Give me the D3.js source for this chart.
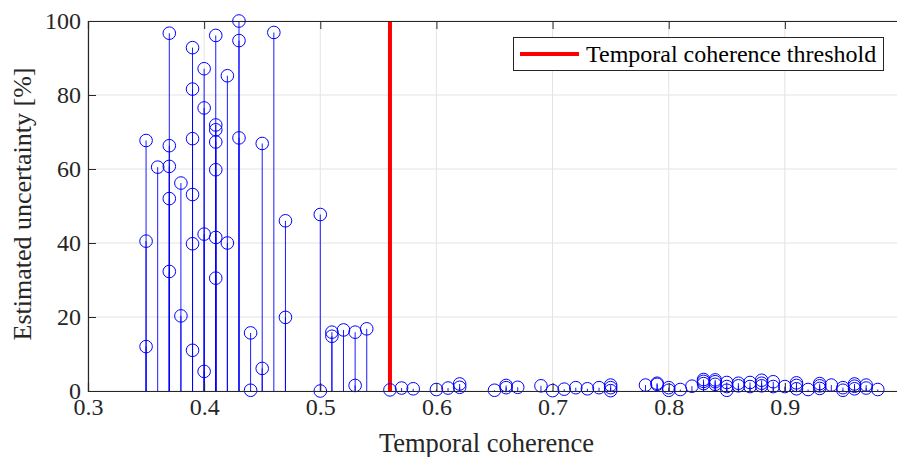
<!DOCTYPE html>
<html>
<head>
<meta charset="utf-8">
<script src="https://cdn.jsdelivr.net/npm/d3@7"></script>
<style>
  body { margin: 0; background: #fff; }
  svg { display: block; font-family: "Liberation Serif", "Times New Roman", serif; }
</style>
</head>
<body>
<div id="graph"></div>
<script>

// temporal coherence of each point (x) and its estimated uncertainty in % (y)
var coherence = [
  0.35, 0.35, 0.35, 0.36, 0.37, 0.37, 0.37, 0.37, 0.37, 0.38, 0.38,
  0.39, 0.39, 0.39, 0.39, 0.39, 0.39, 0.40, 0.40, 0.40, 0.40,
  0.41, 0.41, 0.41, 0.41, 0.41, 0.41, 0.41, 0.42, 0.42,
  0.43, 0.43, 0.43, 0.44, 0.44, 0.45, 0.45, 0.46, 0.47, 0.47,
  0.50, 0.50, 0.51, 0.51, 0.52, 0.53, 0.53, 0.54,
  0.56, 0.57, 0.58, 0.60, 0.61, 0.62, 0.62, 0.65, 0.66, 0.66, 0.67, 0.69,
  0.70, 0.71, 0.72, 0.73, 0.74, 0.75, 0.75, 0.75, 0.78, 0.79, 0.79,
  0.80, 0.80, 0.81, 0.82, 0.83, 0.83, 0.83, 0.84, 0.84, 0.84,
  0.85, 0.85, 0.85, 0.86, 0.86, 0.87, 0.87, 0.88, 0.88, 0.88, 0.89, 0.89,
  0.90, 0.91, 0.91, 0.91, 0.92, 0.93, 0.93, 0.93, 0.94, 0.95, 0.95,
  0.96, 0.96, 0.96, 0.97, 0.97, 0.98
];
var uncertainty = [
  67.7, 40.5, 12.0, 60.5, 96.7, 66.3, 60.7, 52.0, 32.3, 56.2, 20.3,
  92.8, 81.6, 68.2, 53.1, 39.8, 11.0, 87.1, 76.5, 42.4, 5.3,
  96.1, 71.9, 70.6, 67.3, 59.8, 41.5, 30.5, 85.2, 40.0,
  100.0, 94.7, 68.4, 15.7, 0.2, 66.9, 6.1, 96.9, 46.0, 19.9,
  47.7, 0.0, 15.9, 14.8, 16.5, 15.9, 1.5, 16.8,
  0.3, 0.8, 0.6, 0.4, 0.8, 1.9, 1.0, 0.2, 1.5, 0.9, 1.0, 1.4,
  0.1, 0.5, 0.9, 0.6, 0.9, 1.6, 0.9, 0.1, 1.6, 2.1, 1.8,
  0.9, 0.2, 0.4, 1.3, 3.1, 2.6, 2.0, 3.0, 2.5, 1.8,
  2.3, 1.2, 0.2, 2.1, 1.4, 2.3, 1.2, 2.9, 2.1, 1.4, 2.5, 1.2,
  1.2, 2.2, 1.5, 0.6, 0.4, 2.0, 1.4, 0.7, 1.6, 0.9, 0.2,
  1.9, 1.3, 0.6, 1.6, 0.8, 0.4
];
var threshold = 0.56;
var xTicks = [0.3, 0.4, 0.5, 0.6, 0.7, 0.8, 0.9];
var yTicks = [0, 20, 40, 60, 80, 100];
var legendLabel = "Temporal coherence threshold";
var xLabel = "Temporal coherence";
var yLabel = "Estimated uncertainty [%]";

function setup() {
  var W = 897, H = 457;
  var margin = {left: 88, top: 21};
  var plotW = 813, plotH = 370;
  var axisColor = "#262626", gridColor = "#e3e3e3", blue = "#0000ff";

  var svg = d3.select("#graph").append("svg")
    .attr("width", W).attr("height", H);

  var x = d3.scaleLinear().domain([0.3, 1.0]).range([margin.left, margin.left + plotW]);
  var y = d3.scaleLinear().domain([0, 100]).range([margin.top + plotH, margin.top]);

  // grid
  svg.append("g").selectAll("line").data(xTicks).enter().append("line")
    .attr("x1", d => x(d)).attr("x2", d => x(d))
    .attr("y1", y(0)).attr("y2", y(100))
    .attr("stroke", gridColor).attr("stroke-width", 1);
  svg.append("g").selectAll("line").data(yTicks).enter().append("line")
    .attr("x1", x(0.3)).attr("x2", x(1.0))
    .attr("y1", d => y(d)).attr("y2", d => y(d))
    .attr("stroke", gridColor).attr("stroke-width", 1);

  // stems
  var pts = coherence.map((c, i) => ({c: c, u: uncertainty[i]}));
  svg.append("g").selectAll("line").data(pts).enter().append("line")
    .attr("x1", d => x(d.c)).attr("x2", d => x(d.c))
    .attr("y1", y(0)).attr("y2", d => y(d.u))
    .attr("stroke", blue).attr("stroke-width", 0.9);

  // threshold
  svg.append("line")
    .attr("x1", x(threshold)).attr("x2", x(threshold))
    .attr("y1", y(0)).attr("y2", y(100))
    .attr("stroke", "#ff0000").attr("stroke-width", 4);

  // markers
  svg.append("g").selectAll("circle").data(pts).enter().append("circle")
    .attr("cx", d => x(d.c)).attr("cy", d => y(d.u)).attr("r", 6.3)
    .attr("fill", "none").attr("stroke", blue).attr("stroke-width", 1);

  // axes (ticks inward, box)
  var tickLen = 8;
  var xAxis = d3.axisBottom(x).tickValues(xTicks).tickSize(-tickLen).tickPadding(7)
    .tickFormat(d3.format(".1f"));
  var gx = svg.append("g").attr("transform", `translate(0,${y(0)})`).call(xAxis);
  var xTop = d3.axisTop(x).tickValues(xTicks).tickSize(-tickLen).tickFormat("");
  var gxt = svg.append("g").attr("transform", `translate(0,${y(100)})`).call(xTop);
  var yAxis = d3.axisLeft(y).tickValues(yTicks).tickSize(-tickLen).tickPadding(7);
  var gy = svg.append("g").attr("transform", `translate(${x(0.3)},0)`).call(yAxis);

  [gx, gxt, gy].forEach(g => {
    g.attr("font-family", null).attr("font-size", null);
    g.select(".domain").attr("stroke", axisColor).attr("stroke-width", 1.2);
    g.selectAll(".tick line").attr("stroke", axisColor).attr("stroke-width", 1);
    g.selectAll("text").attr("fill", axisColor)
      .style("font-family", "'Liberation Serif'").style("font-size", "24px");
  });

  // labels
  svg.append("text")
    .attr("x", x(0.3) + plotW / 2 - 8).attr("y", 452)
    .attr("text-anchor", "middle").attr("fill", axisColor)
    .style("font-size", "26.5px").text(xLabel);
  svg.append("text")
    .attr("transform", `translate(31,${y(50) - 2}) rotate(-90)`)
    .attr("text-anchor", "middle").attr("fill", axisColor)
    .style("font-size", "26px").text(yLabel);

  // legend
  var lg = svg.append("g");
  lg.append("rect").attr("x", 513.5).attr("y", 37.5).attr("width", 370).attr("height", 33)
    .attr("fill", "#fff").attr("stroke", axisColor).attr("stroke-width", 1);
  lg.append("line").attr("x1", 520).attr("x2", 579).attr("y1", 54).attr("y2", 54)
    .attr("stroke", "#ff0000").attr("stroke-width", 4);
  lg.append("text").attr("x", 586).attr("y", 62).attr("fill", "#000")
    .style("font-size", "24px").text(legendLabel);
}

window.addEventListener('load', setup)
</script>
</body>
</html>
